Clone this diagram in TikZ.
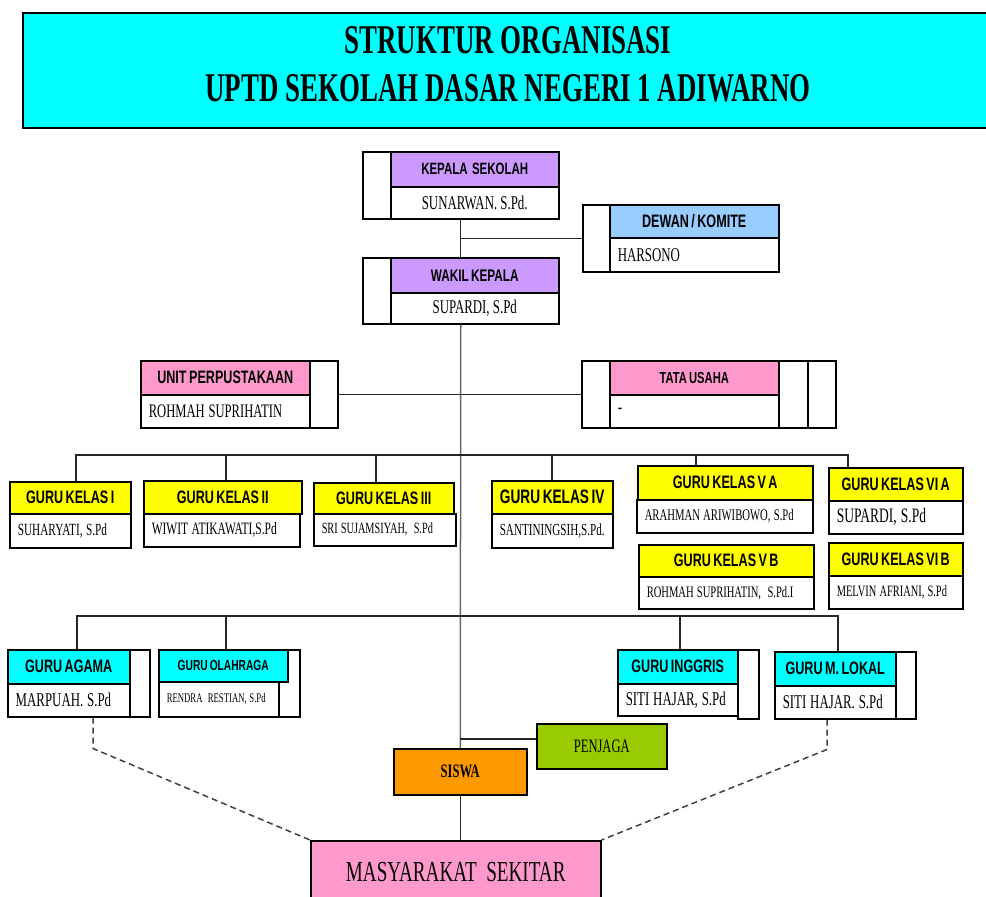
\documentclass[tikz,border=0pt]{standalone}
\usepackage{fontspec}
\newfontfamily\headfont[FakeStretch=0.7, WordSpace=0.7]{Liberation Sans}
\newfontfamily\namefont[FakeStretch=0.66, WordSpace=0.66]{Liberation Serif}
\newfontfamily\titlefont[FakeStretch=0.66]{Liberation Serif}
\newcommand{\ukuran}[1]{\fontsize{#1}{#1}\selectfont}
\definecolor{ungu}{HTML}{CC99FF}
\definecolor{biru}{HTML}{99CCFF}
\definecolor{merahmuda}{HTML}{FF99CC}
\definecolor{kuning}{HTML}{FFFF00}
\definecolor{toska}{HTML}{00FFFF}
\definecolor{hijau}{HTML}{99CC00}
\definecolor{oranye}{HTML}{FF9900}

\begin{document}
\begin{tikzpicture}[x=1pt, y=-1pt,
 kotak/.style={draw, line width=1.5pt, inner sep=0pt, anchor=north west},
 wh/.style 2 args={minimum width=#1pt, minimum height=#2pt},
 head/.style={kotak, fill=#1, font=\headfont\bfseries\ukuran{18}},
 isi/.style 2 args={kotak, fill=white, text width=#1pt, minimum height=#2pt,
   inner xsep=8pt, align=left, font=\namefont\ukuran{19.5},
   execute at begin node={\spaceskip=0.2em\relax}},
 tengah/.style={kotak, fill=white, font=\namefont\ukuran{19.5}},
 garis/.style={line width=1.4pt, black!85},
 batang/.style={line width=1.5pt, black!60},
 putus/.style={line width=1.5pt, black!75, dash pattern=on 6pt off 4pt}]
\useasboundingbox (0,0) rectangle (986,897);

% judul
\node[kotak, fill=toska, wh={970}{115}] (kotakjudul) at (22,12) {};
\node[font=\titlefont\bfseries\fontsize{40.8}{48}\selectfont, align=center] (judul)
  at (508,64) {STRUKTUR ORGANISASI\\UPTD SEKOLAH DASAR NEGERI 1 ADIWARNO};

% pimpinan
\node[kotak, fill=white, wh={196}{67}] (kepala) at (362,151) {};
\node[head=ungu, wh={168}{35}, font=\headfont\bfseries\ukuran{16.4}] (kepala-h) at (390,151) {KEPALA\ \ SEKOLAH};
\node[tengah, wh={168}{32}] (kepala-n) at (390,186) {SUNARWAN. S.Pd.};

\node[kotak, fill=white, wh={196}{67}] (dewan) at (582,204) {};
\node[head=biru, wh={169}{33}] (dewan-h) at (609,204) {DEWAN / KOMITE};
\node[isi={153}{34}] (dewan-n) at (609,237) {HARSONO};

\node[kotak, fill=white, wh={196}{66}] (wakil) at (362,257) {};
\node[head=ungu, wh={168}{35}, font=\headfont\bfseries\ukuran{16.8}] (wakil-h) at (390,257) {WAKIL KEPALA};
\node[tengah, wh={168}{31}] (wakil-n) at (390,292) {SUPARDI, S.Pd};

\node[kotak, fill=white, wh={197}{67}] (perpus) at (140,360) {};
\node[head=merahmuda, wh={169}{34}] (perpus-h) at (140,360) {UNIT PERPUSTAKAAN};
\node[isi={153}{33}, font=\namefont\ukuran{19.1}] (perpus-n) at (140,394) {ROHMAH SUPRIHATIN};

\node[kotak, fill=white, wh={254}{67}] (tu) at (581,360) {};
\node[head=merahmuda, wh={169}{34}, font=\headfont\bfseries\ukuran{16}] (tu-h) at (609,360) {TATA USAHA};
\node[isi={153}{33}] (tu-n) at (609,394) {-};
\node[kotak, wh={29}{67}] (tu-r) at (778,360) {};

% guru kelas
\node[head=kuning, wh={121}{32}] (k1) at (9,481) {GURU KELAS I};
\node[isi={105}{34}, font=\namefont\ukuran{17.1}] (k1-n) at (9,513) {SUHARYATI, S.Pd};
\node[head=kuning, wh={158}{33}] (k2) at (143,480) {GURU KELAS II};
\node[isi={140}{33}, font=\namefont\ukuran{17.4}] (k2-n) at (143,513) {WIWIT ATIKAWATI,S.Pd};
\node[head=kuning, wh={140}{31}] (k3) at (313,482) {GURU KELAS III};
\node[isi={126}{32}, font=\namefont\ukuran{15.6}] (k3-n) at (313,513) {SRI SUJAMSIYAH,\ \ S.Pd};
\node[head=kuning, wh={121}{33}, font=\headfont\bfseries\ukuran{19.5}] (k4) at (491,480) {GURU KELAS IV};
\node[isi={105}{34}, font=\namefont\ukuran{16.9}] (k4-n) at (491,513) {SANTININGSIH,S.Pd.};
\node[head=kuning, wh={175}{34}] (k5a) at (637,465) {GURU KELAS V A};
\node[isi={160}{33}, font=\namefont\ukuran{16.2}] (k5a-n) at (636,499) {ARAHMAN ARIWIBOWO, S.Pd};
\node[head=kuning, wh={175}{32}] (k5b) at (638,544) {GURU KELAS V B};
\node[isi={159}{32}, font=\namefont\ukuran{16}] (k5b-n) at (638,576) {ROHMAH SUPRIHATIN,\ \ S.Pd.I};
\node[head=kuning, wh={134}{33}] (k6a) at (828,467) {GURU KELAS VI A};
\node[isi={118}{33}, font=\namefont\ukuran{20.5}] (k6a-n) at (828,500) {SUPARDI, S.Pd};
\node[head=kuning, wh={134}{33}] (k6b) at (828,542) {GURU KELAS VI B};
\node[isi={118}{33}, font=\namefont\ukuran{15.8}] (k6b-n) at (828,575) {MELVIN AFRIANI, S.Pd};

% guru mapel
\node[kotak, fill=white, wh={142}{67}] (agama) at (7,649) {};
\node[head=toska, wh={122}{34}] (agama-h) at (7,649) {GURU AGAMA};
\node[isi={106}{33}] (agama-n) at (7,683) {MARPUAH. S.Pd};

\node[kotak, fill=white, wh={141}{67}] (olahraga) at (158,649) {};
\node[isi={104}{35}, font=\namefont\ukuran{13.2}] (olahraga-n) at (158,681) {RENDRA\ \ RESTIAN, S.Pd};
\node[head=toska, wh={129}{32}, font=\headfont\bfseries\ukuran{14.6}] (olahraga-h) at (158,649) {GURU OLAHRAGA};

\node[kotak, fill=white, wh={21}{69}] (inggris-r) at (737,649) {};
\node[head=toska, wh={120}{34}] (inggris) at (617,649) {GURU INGGRIS};
\node[isi={104}{32}] (inggris-n) at (617,683) {SITI HAJAR, S.Pd};

\node[kotak, fill=white, wh={20}{67}] (lokal-r) at (895,651) {};
\node[head=toska, wh={121}{34}] (lokal) at (774,651) {GURU M. LOKAL};
\node[isi={105}{33}] (lokal-n) at (774,685) {SITI HAJAR. S.Pd};

% bawah
\node[kotak, fill=hijau, wh={130}{45}, font=\namefont\ukuran{19}] (penjaga) at (536,723) {PENJAGA};
\node[kotak, fill=oranye, wh={133}{46}, font=\namefont\bfseries\ukuran{19}] (siswa) at (393,748) {SISWA};
\node[kotak, fill=merahmuda, wh={290}{62}, font=\titlefont\ukuran{29}] (masy) at (310,840) {MASYARAKAT\ \ SEKITAR};

% garis
\coordinate (busA) at (460,455);
\coordinate (busB) at (460,616);
\coordinate (jaga) at ([yshift=-16pt]penjaga.north west);
\draw[garis] (kepala.south) -- (wakil.north);
\draw[garis] (dewan.west) -- (dewan.west -| kepala.south);
\draw[batang] (wakil.south) -- (siswa.north);
\draw[garis] (perpus.east) -- (tu.west);
\foreach \n/\d in {k1/67, k2/83, k3/63, k4/61, k5a/59, k6a/20}
  \draw[garis] ([xshift=\d pt]\n.north west) |- (busA);
\foreach \n/\d in {agama/70, olahraga/68, inggris/63, lokal/64}
  \draw[garis] ([xshift=\d pt]\n.north west) |- (busB);
\draw[garis] (jaga) -- (jaga -| siswa.north);
\draw[garis] (siswa.south) -- (siswa.south |- masy.north);
\draw[putus] ([xshift=86pt]agama.south west) -- ++(0,31) -- (masy.north west);
\draw[putus] ([xshift=53pt]lokal-n.south west) -- ++(0,30) -- (masy.north east);
\end{tikzpicture}
\end{document}
